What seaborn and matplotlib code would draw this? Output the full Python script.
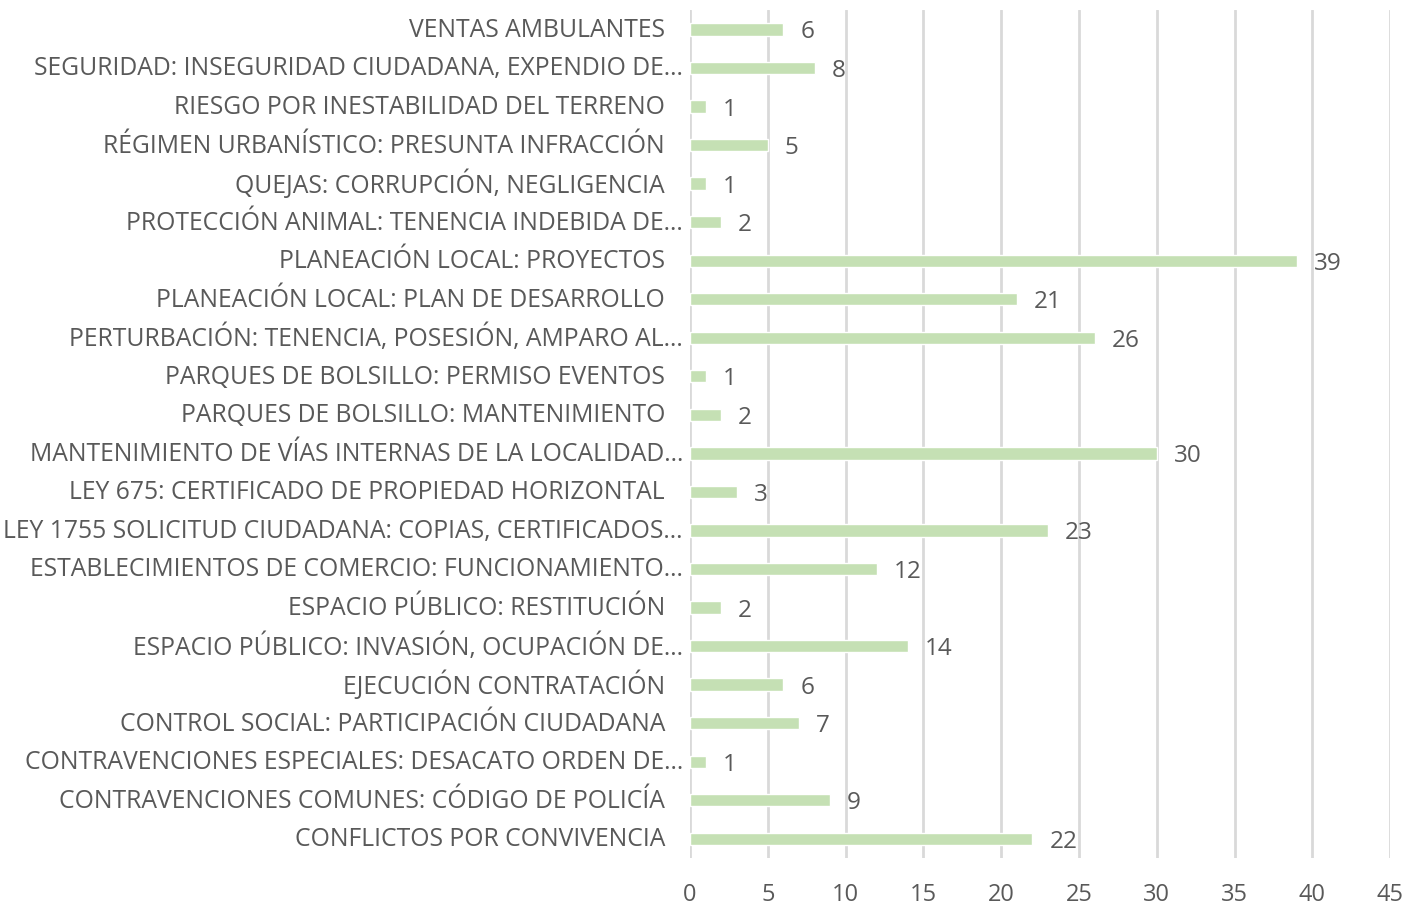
import matplotlib
matplotlib.use("Agg")
import matplotlib.pyplot as plt
import matplotlib.transforms as mtransforms
import seaborn as sns
import pandas as pd

# ── Data (top to bottom as shown) ─────────────────────────────────────────────
categories = [
    "VENTAS AMBULANTES",
    "SEGURIDAD: INSEGURIDAD CIUDADANA, EXPENDIO DE…",
    "RIESGO POR INESTABILIDAD DEL TERRENO",
    "RÉGIMEN URBANÍSTICO: PRESUNTA INFRACCIÓN",
    "QUEJAS: CORRUPCIÓN, NEGLIGENCIA",
    "PROTECCIÓN ANIMAL: TENENCIA INDEBIDA DE…",
    "PLANEACIÓN LOCAL: PROYECTOS",
    "PLANEACIÓN LOCAL: PLAN DE DESARROLLO",
    "PERTURBACIÓN: TENENCIA, POSESIÓN, AMPARO AL…",
    "PARQUES DE BOLSILLO: PERMISO EVENTOS",
    "PARQUES DE BOLSILLO: MANTENIMIENTO",
    "MANTENIMIENTO DE VÍAS INTERNAS DE LA LOCALIDAD…",
    "LEY 675: CERTIFICADO DE PROPIEDAD HORIZONTAL",
    "LEY 1755 SOLICITUD CIUDADANA: COPIAS, CERTIFICADOS…",
    "ESTABLECIMIENTOS DE COMERCIO: FUNCIONAMIENTO…",
    "ESPACIO PÚBLICO: RESTITUCIÓN",
    "ESPACIO PÚBLICO: INVASIÓN, OCUPACIÓN DE…",
    "EJECUCIÓN CONTRATACIÓN",
    "CONTROL SOCIAL: PARTICIPACIÓN CIUDADANA",
    "CONTRAVENCIONES ESPECIALES: DESACATO ORDEN DE…",
    "CONTRAVENCIONES COMUNES: CÓDIGO DE POLICÍA",
    "CONFLICTOS POR CONVIVENCIA",
]
values = [6, 8, 1, 5, 1, 2, 39, 21, 26, 1, 2, 30, 3, 23, 12, 2, 14, 6, 7, 1, 9, 22]
x_ticks = [0, 5, 10, 15, 20, 25, 30, 35, 40, 45]

BAR = "#C5E0B4"
TEXT = "#595959"
GRID = "#D9D9D9"

sns.set_theme(style="white")
plt.rcParams["font.family"] = ["Open Sans", "DejaVu Sans"]

df = pd.DataFrame({"cat": categories, "val": values})

fig = plt.figure(figsize=(14.24, 9.24), dpi=100)
ax = fig.add_axes([0.4846, 0.0714, 0.4916, 0.9176])

sns.barplot(data=df, x="val", y="cat", color=BAR, width=0.32, ax=ax,
            saturation=1, zorder=3)

ax.set_xlim(0, 45)
ax.set_ylim(len(categories) - 0.5, -0.5)
ax.set_xticks(x_ticks)
ax.xaxis.grid(True, color=GRID, linewidth=2, zorder=0)
ax.set_axisbelow(True)
for s in ax.spines.values():
    s.set_visible(False)
ax.tick_params(axis="x", length=0, pad=18, labelsize=17, labelcolor=TEXT)
ax.set_xlabel("")
ax.set_ylabel("")
ax.set_yticks(range(len(categories)))
ax.set_yticklabels([])
ax.tick_params(axis="y", length=0)

# category labels (truncated ones sit a little closer to the axis)
trans = mtransforms.blended_transform_factory(ax.transAxes, ax.transData)
for i, c in enumerate(categories):
    off = -7 if c.endswith("…") else -25
    t = mtransforms.offset_copy(trans, fig=fig, x=off, y=-1, units="dots")
    ax.text(0, i, c, transform=t, ha="right", va="center",
            fontsize=17.8, color=TEXT)

# value labels
for i, v in enumerate(values):
    t = mtransforms.offset_copy(ax.transData, fig=fig, x=17, y=-3, units="dots")
    ax.text(v, i, str(v), transform=t, ha="left", va="center",
            fontsize=17.5, color=TEXT)

fig.savefig("out.png", dpi=100)
